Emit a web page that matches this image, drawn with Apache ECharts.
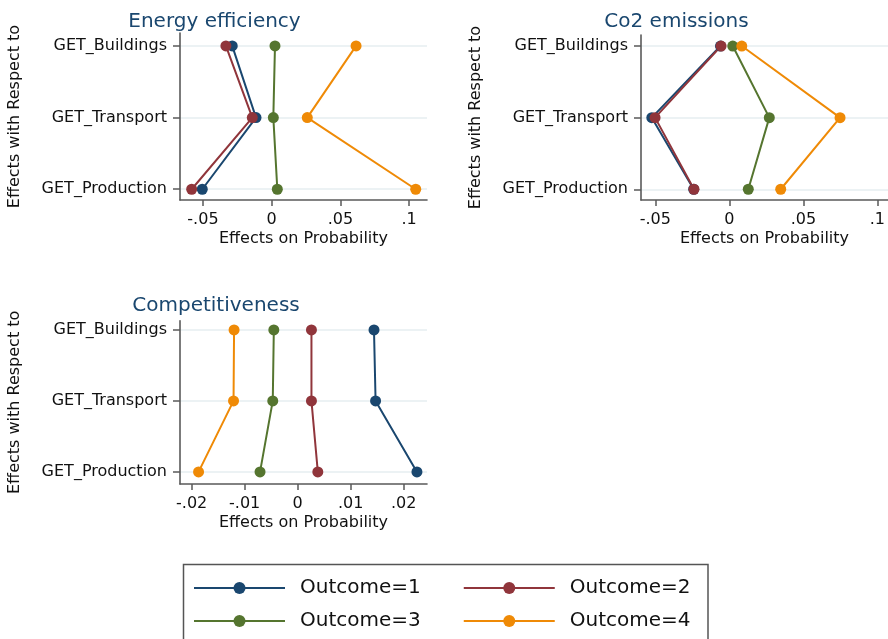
<!DOCTYPE html>
<html>
<head>
<meta charset="utf-8">
<script src="https://cdn.jsdelivr.net/npm/echarts@6/dist/echarts.min.js"></script>
<style>
html,body{margin:0;padding:0;background:#fff;}
#chart{width:888px;height:639px;}
</style>
</head>
<body>
<div id="chart"></div>
<script>
// ---- data ----
const categories = ['GET_Buildings', 'GET_Transport', 'GET_Production'];
const outcomes = ['Outcome=1', 'Outcome=2', 'Outcome=3', 'Outcome=4'];
const panelTitles = ['Energy efficiency', 'Co2 emissions', 'Competitiveness'];

// Energy efficiency (Buildings, Transport, Production)
const energyO1 = [-0.0287, -0.0114, -0.0505];
const energyO2 = [-0.0333, -0.0141, -0.0582];
const energyO3 = [0.0024, 0.0012, 0.0041];
const energyO4 = [0.0614, 0.0259, 0.1048];

// Co2 emissions
const co2O1 = [-0.0060, -0.0524, -0.0241];
const co2O2 = [-0.0056, -0.0502, -0.0239];
const co2O3 = [0.0023, 0.0270, 0.0128];
const co2O4 = [0.0084, 0.0748, 0.0347];

// Competitiveness
const compO1 = [0.0144, 0.0147, 0.0225];
const compO2 = [0.0026, 0.0026, 0.0038];
const compO3 = [-0.0045, -0.0047, -0.0071];
const compO4 = [-0.0120, -0.0121, -0.0187];

const energyTicks = [-0.05, 0, 0.05, 0.1];
const co2Ticks = [-0.05, 0, 0.05, 0.1];
const compTicks = [-0.02, -0.01, 0, 0.01, 0.02];
const categoryTicks = [0, 1, 2];

const panelValues = [
  [energyO1, energyO2, energyO3, energyO4],
  [co2O1, co2O2, co2O3, co2O4],
  [compO1, compO2, compO3, compO4]
];
const panelTicks = [energyTicks, co2Ticks, compTicks];

// ---- styling / layout ----
const FONT = 'DejaVu Sans';
const colors = ['#1a476f', '#90353b', '#55752f', '#ef8a06'];
const axisColor = '#5a5a5a';
const gridLineColor = '#e6eef0';

const grids = [
  {left: 180, top: 33, width: 247, height: 167},
  {left: 641, top: 35, width: 247, height: 165},
  {left: 180, top: 320.7, width: 247, height: 163.3}
];
const yRanges = [[-0.18, 2.15], [-0.154, 2.15], [-0.13, 2.17]];
const xRanges = [[-0.0667, 0.113], [-0.0597, 0.1072], [-0.0222, 0.0244]];
const titlePos = [[214.5, 12], [676.5, 12], [216, 296]];

function stataFmt(v) {
  if (Math.abs(v) < 1e-12) return '0';
  let s = String(+v.toFixed(4));
  return s.replace(/^(-?)0\./, '$1.');
}

const option = {
  animation: false,
  backgroundColor: '#ffffff',
  color: colors,
  textStyle: {fontFamily: FONT},
  title: panelTitles.map((t, i) => ({
    text: t,
    left: titlePos[i][0],
    top: titlePos[i][1],
    textAlign: 'center',
    padding: 0,
    textStyle: {fontFamily: FONT, fontSize: 20, fontWeight: 'normal', color: '#1a476f'}
  })),
  legend: [
    {data: [outcomes[0], outcomes[1]], left: 193, top: 578},
    {data: [outcomes[2], outcomes[3]], left: 193, top: 611}
  ].map(l => Object.assign(l, {
    orient: 'horizontal',
    itemWidth: 91,
    itemHeight: 15,
    itemGap: 42,
    padding: 0,
    selectedMode: false,
    textStyle: {fontFamily: FONT, fontSize: 20, color: '#111', padding: [0, 0, 0, 10]}
  })),
  grid: grids.map(g => Object.assign({outerBoundsMode: 'none', containLabel: false}, g)),
  xAxis: grids.map((g, i) => ({
    type: 'value',
    gridIndex: i,
    min: xRanges[i][0],
    max: xRanges[i][1],
    name: 'Effects on Probability',
    nameLocation: 'middle',
    nameGap: 31,
    nameTextStyle: {fontFamily: FONT, fontSize: 16, color: '#111'},
    axisLine: {show: true, onZero: false, lineStyle: {color: axisColor, width: 1.6}},
    axisTick: {show: true, length: 6, customValues: panelTicks[i], lineStyle: {color: axisColor, width: 1.5}},
    axisLabel: {customValues: panelTicks[i], formatter: stataFmt, margin: 12,
      fontFamily: FONT, fontSize: 16, color: '#111'},
    splitLine: {show: false}
  })),
  yAxis: grids.map((g, i) => ({
    type: 'value',
    gridIndex: i,
    inverse: true,
    min: yRanges[i][0],
    max: yRanges[i][1],
    name: 'Effects with Respect to',
    nameLocation: 'middle',
    nameGap: 157,
    nameRotate: 90,
    nameTextStyle: {fontFamily: FONT, fontSize: 16, color: '#111'},
    axisLine: {show: true, onZero: false, lineStyle: {color: axisColor, width: 1.6}},
    axisTick: {show: true, length: 7, customValues: categoryTicks, lineStyle: {color: axisColor, width: 1.5}},
    axisLabel: {customValues: categoryTicks, formatter: v => categories[Math.round(v)] || '', margin: 13,
      fontFamily: FONT, fontSize: 16, color: '#111'},
    splitLine: {show: true, lineStyle: {color: gridLineColor, width: 1.5}}
  })),
  graphic: [{
    type: 'rect',
    shape: {x: 183.5, y: 564.5, width: 524.5, height: 120},
    style: {fill: 'none', stroke: '#555', lineWidth: 1.5},
    silent: true
  }],
  series: []
};

panelValues.forEach((vals, p) => {
  vals.forEach((arr, k) => {
    option.series.push({
      type: 'line',
      name: outcomes[k],
      xAxisIndex: p,
      yAxisIndex: p,
      symbol: 'circle',
      symbolSize: 11,
      showSymbol: true,
      lineStyle: {width: 2, color: colors[k]},
      itemStyle: {color: colors[k]},
      data: categories.map((c, j) => [arr[j], j])
    });
  });
});

const chart = echarts.init(document.getElementById('chart'), null, {renderer: 'canvas'});
chart.setOption(option);
</script>
</body>
</html>
